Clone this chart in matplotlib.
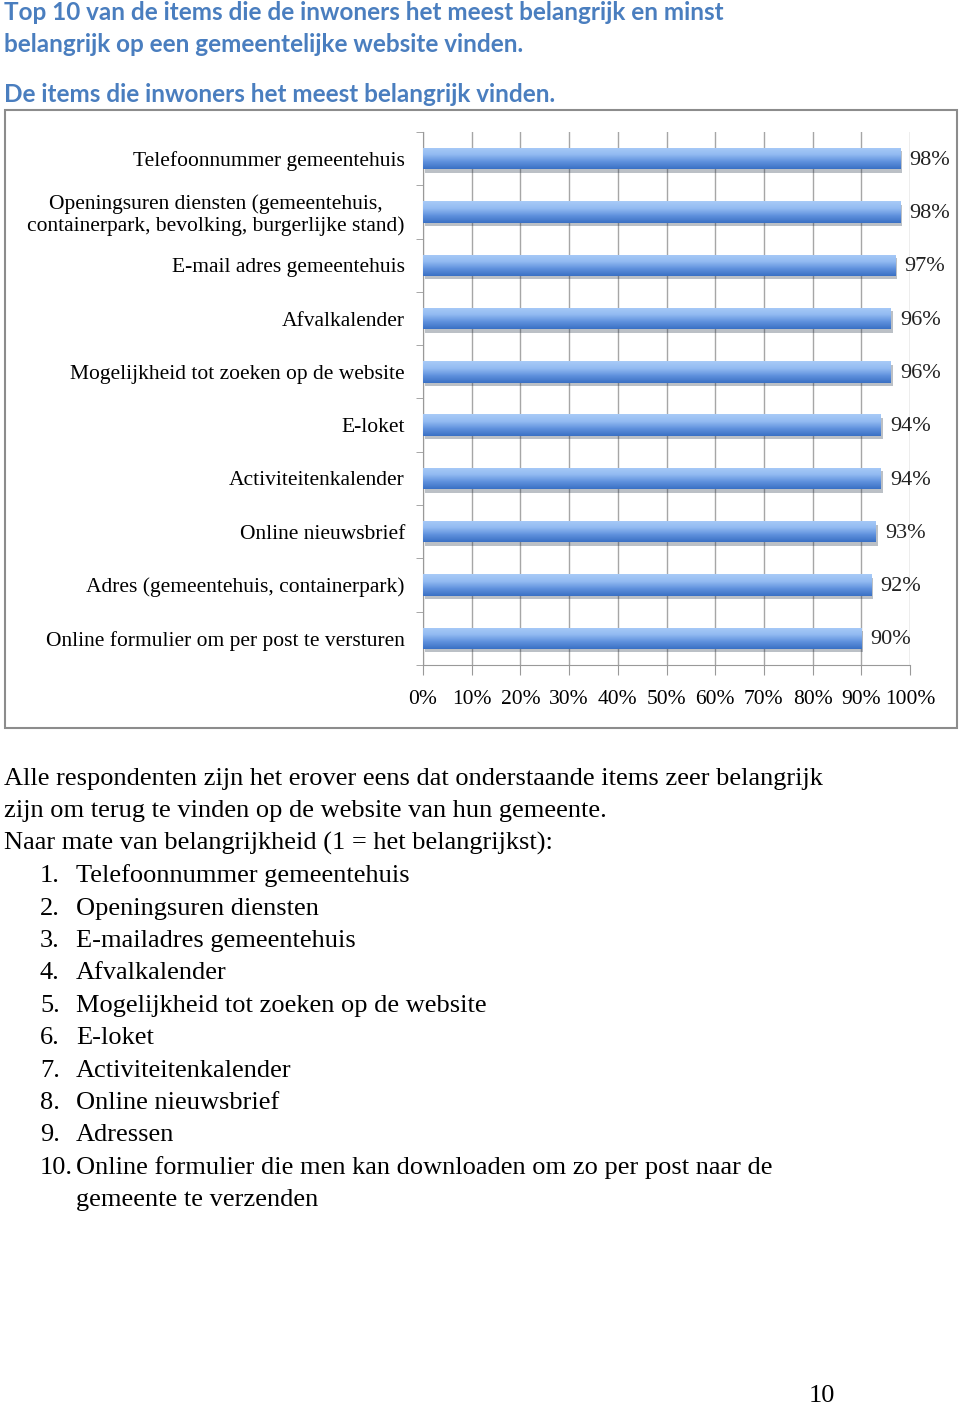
import numpy as np
import matplotlib
matplotlib.use("Agg")
import matplotlib.pyplot as plt
from matplotlib.patches import Rectangle
import matplotlib.patheffects as pe

# Data
categorieen = [
    "Telefoonnummer gemeentehuis",
    "Openingsuren diensten (gemeentehuis,\ncontainerpark, bevolking, burgerlijke stand)",
    "E-mail adres gemeentehuis",
    "Afvalkalender",
    "Mogelijkheid tot zoeken op de website",
    "E-loket",
    "Activiteitenkalender",
    "Online nieuwsbrief",
    "Adres (gemeentehuis, containerpark)",
    "Online formulier om per post te versturen",
]
percentages = [98, 98, 97, 96, 96, 94, 94, 93, 92, 90]
x_ticks = [0, 10, 20, 30, 40, 50, 60, 70, 80, 90, 100]

titel = ["Top 10 van de items die de inwoners het meest belangrijk en minst",
         "belangrijk op een gemeentelijke website vinden."]
subtitel = "De items die inwoners het meest belangrijk vinden."
intro = ["Alle respondenten zijn het erover eens dat onderstaande items zeer belangrijk",
         "zijn om terug te vinden op de website van hun gemeente.",
         "Naar mate van belangrijkheid (1 = het belangrijkst):"]
lijst = ["Telefoonnummer gemeentehuis", "Openingsuren diensten", "E-mailadres gemeentehuis",
         "Afvalkalender", "Mogelijkheid tot zoeken op de website", "E-loket",
         "Activiteitenkalender", "Online nieuwsbrief", "Adressen",
         "Online formulier die men kan downloaden om zo per post naar de\ngemeente te verzenden"]

W, H = 960, 1405
fig = plt.figure(figsize=(W / 100, H / 100), dpi=100)

def fx(px):
    return px / W

def fy(py):
    return 1 - py / H

blauw = "#4a7ebf"
serif = "Liberation Serif"

# titels
for i, regel in enumerate(titel):
    fig.text(fx(4), fy(13 + i * 31), regel, fontsize=17.5, fontweight="bold",
             color=blauw, family="Lato", va="center")
fig.text(fx(4), fy(94), subtitel, fontsize=17.5, fontweight="bold",
         color=blauw, family="Lato", va="center")

# kader rond grafiek
fig.patches.append(Rectangle((fx(5), fy(728)), fx(952), (728 - 110) / H,
                             transform=fig.transFigure, fill=False,
                             edgecolor="#8c8c8c", linewidth=1.5))

ax = fig.add_axes([fx(423), fy(665), fx(487), 533 / H])
y = np.arange(len(categorieen))
bars = ax.barh(y, percentages, height=0.4, color="#6b9ce3", zorder=3,
               path_effects=[pe.SimplePatchShadow(offset=(1.5, -2.5), alpha=0.3),
                             pe.Normal()])

grad = np.linspace(0, 1, 100).reshape(-1, 1)
cmap = matplotlib.colors.LinearSegmentedColormap.from_list(
    "balk", ["#a9cbf7", "#93bbf2", "#5f91dd", "#3a70c4"])
for b, v in zip(bars, percentages):
    yb = b.get_y()
    im = ax.imshow(grad, extent=(0, v, yb + b.get_height(), yb), aspect="auto",
                   cmap=cmap, zorder=4)
    im.set_clip_path(b)
    ax.text(v + 1.9, b.get_y() + b.get_height() / 2 + 0.03, f"{v}%", va="center",
            ha="left", fontsize=16, family=serif, color="#222222", zorder=5)

ax.set_xlim(0, 100)
ax.set_ylim(len(categorieen) - 0.5, -0.5)
ax.set_xticks(x_ticks)
ax.set_xticklabels([f"{t}%" for t in x_ticks], fontsize=15.5, family=serif)
ax.set_yticks(y)
ax.set_yticklabels(categorieen, fontsize=15.5, family=serif, linespacing=1.12)
ax.set_yticks(np.arange(len(categorieen) + 1) - 0.5, minor=True)
ax.tick_params(axis="y", which="major", length=0, pad=13)
ax.tick_params(axis="y", which="minor", length=5, color="#999999", direction="out")
ax.tick_params(axis="x", length=7, color="#999999", pad=11)
ax.grid(axis="x", color="#a6a6a6", linewidth=1, zorder=1)
ax.set_axisbelow(True)
for s in ["top", "right"]:
    ax.spines[s].set_visible(False)
for s in ["left", "bottom"]:
    ax.spines[s].set_color("#999999")
for lbl in ax.get_yticklabels():
    lbl.set_horizontalalignment("right")
    lbl.set_multialignment("center")

# tekst onder de grafiek
stap = 32.4
basis = 785
for i, regel in enumerate(intro):
    fig.text(fx(4), fy(basis + i * stap), regel, fontsize=19, family=serif, va="baseline")
rij = 3
for i, item in enumerate(lijst):
    fig.text(fx(40), fy(basis + rij * stap), f"{i + 1}.", fontsize=19, family=serif,
             va="baseline")
    for deel in item.split("\n"):
        fig.text(fx(76), fy(basis + rij * stap), deel, fontsize=19, family=serif,
                 va="baseline")
        rij += 1

fig.text(fx(822), fy(1396), "10", fontsize=19, family=serif, va="center", ha="center")

fig.savefig("out.png", dpi=100, facecolor="white")
